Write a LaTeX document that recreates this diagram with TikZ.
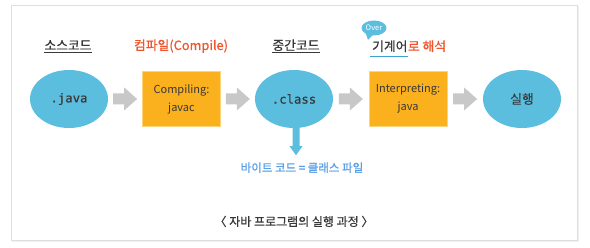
\documentclass[tikz,border=0pt]{standalone}
\usepackage{fontspec}
\setmainfont{Noto Sans CJK KR}
\newfontfamily\medfont[FakeBold=0.5]{Noto Sans CJK KR}
\newfontfamily\monofont[FakeBold=0.4]{DejaVu Sans Mono}
\usetikzlibrary{shapes.geometric,calc}

\definecolor{skyfill}{RGB}{92,190,222}
\definecolor{boxfill}{RGB}{251,176,30}
\definecolor{boxedge}{RGB}{255,212,120}
\definecolor{arrgray}{RGB}{200,200,200}
\definecolor{darktext}{RGB}{56,56,56}
\definecolor{redtext}{RGB}{240,84,42}
\definecolor{bluetext}{RGB}{88,158,230}
\definecolor{lineblue}{RGB}{60,160,210}
\definecolor{framegray}{RGB}{222,222,222}

\tikzset{
  oval/.style={ellipse, fill=skyfill, minimum width=78pt, minimum height=58pt, inner sep=0pt,
               text=darktext, font=\monofont\fontsize{12.3}{14}\selectfont},
  stagebox/.style={rectangle, fill=boxfill, draw=boxedge, line width=0.8pt,
               minimum width=78pt, minimum height=55pt, inner sep=0pt, align=center,
               text=darktext, font=\fontsize{11}{18}\selectfont},
  lbl/.style={inner sep=0pt, anchor=base, font=\medfont\fontsize{12.8}{14}\selectfont, text=darktext},
}

% gray block arrow centred between two nodes
\newcommand\grayarrow[2]{%
  \coordinate (m) at ($(#1.east)!0.5!(#2.west)$);
  \fill[arrgray] ($(m)+(-12,-5.5)$) -- ($(m)+(-1,-5.5)$) -- ($(m)+(-1,-11.5)$)
     -- ($(m)+(12,0)$) -- ($(m)+(-1,11.5)$) -- ($(m)+(-1,5.5)$) -- ($(m)+(-12,5.5)$) -- cycle;
}

\begin{document}
\begin{tikzpicture}[x=1pt,y=-1pt]
\useasboundingbox (0,0) rectangle (590,248);

% card frame
\fill[white] (11,5) rectangle (577,240);
\draw[black!6, line width=1.5pt] (12,241) -- (578,241) -- (578,6);
\draw[framegray, line width=0.8pt] (11,5) rectangle (577,240);

% stages
\node[oval] (java) at (69,99) {.java};
\node[stagebox] (comp) at (181.5,99) {Compiling:\\javac};
\node[oval] (class) at (294,99) {.class};
\node[stagebox] (interp) at (408,99) {Interpreting:\\java};
\node[oval, font=\medfont\fontsize{12.8}{14}\selectfont] (run) at (522,99) {실행};

\grayarrow{java}{comp}
\grayarrow{comp}{class}
\grayarrow{class}{interp}
\grayarrow{interp}{run}

% headings
\node[lbl] (src) at (68,50) {소스코드};
\draw[darktext, line width=0.7pt] ([yshift=-2pt]src.base west) -- ([yshift=-2pt]src.base east);
\node[lbl, text=redtext] (cmp) at (181,50) {컴파일(Compile)};
\node[lbl] (mid) at (296,50) {중간코드};
\draw[darktext, line width=0.7pt] ([yshift=-2pt]mid.base west) -- ([yshift=-2pt]mid.base east);
\node[lbl, anchor=base west] (mach) at (372,51) {기계어};
\node[lbl, anchor=base west, text=redtext] (interpret) at (mach.base east) {로 해석};
\draw[lineblue, line width=1.6pt] ([xshift=-2pt,yshift=-5.5pt]mach.base west) -- ([yshift=-5.5pt]mach.base east);

% "Over" tag
\fill[skyfill] (365,31) -- (368,40) -- (374,34) -- cycle;
\node[ellipse, fill=skyfill, minimum width=25pt, minimum height=15pt, inner sep=0pt,
      text=white, font=\fontsize{7.5}{8}\selectfont] (over) at (374,28) {Over};

% byte code pointer
\coordinate (dtip) at ($(class.south)+(2,27)$);
\fill[skyfill] ($(class.south)+(-1.5,-3)$) -- ($(class.south)+(5.5,-3)$) -- ($(dtip)+(3.5,-9)$)
   -- ($(dtip)+(6.5,-9)$) -- (dtip) -- ($(dtip)+(-6.5,-9)$) -- ($(dtip)+(-3.5,-9)$) -- cycle;
\node[lbl, text=bluetext, font=\medfont\fontsize{11.5}{13}\selectfont] (bytecode) at (302,172) {바이트 코드 = 클래스 파일};

% caption
\node[lbl, font=\medfont\fontsize{12}{14}\selectfont] (caption) at (294,226) {〈 자바 프로그램의 실행 과정 〉};
\end{tikzpicture}
\end{document}
